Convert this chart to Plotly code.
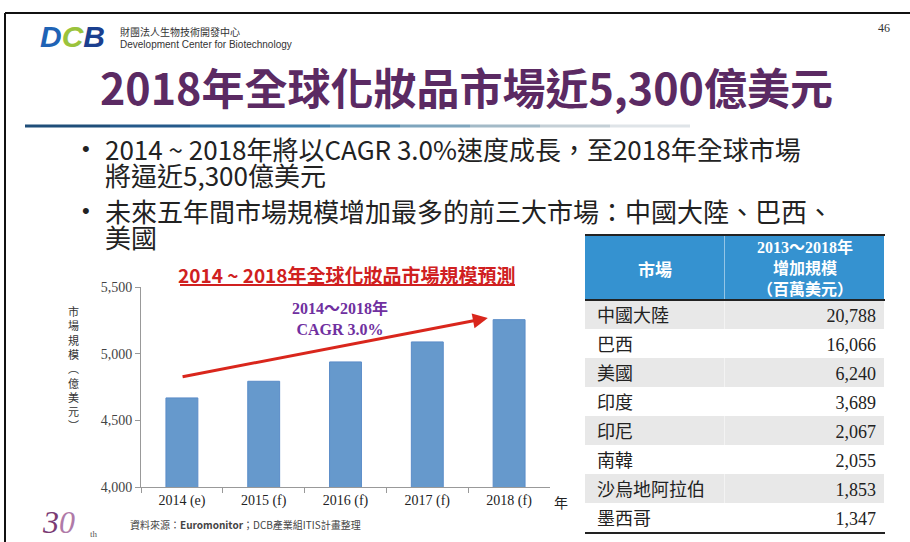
import plotly.graph_objects as go

# ---------------- data ----------------
years = ["2014 (e)", "2015 (f)", "2016 (f)", "2017 (f)", "2018 (f)"]
market_size = [4668, 4793, 4938, 5088, 5255]          # 億美元
y_ticks = [4000, 4500, 5000, 5500]

markets = ["中國大陸", "巴西", "美國", "印度", "印尼", "南韓", "沙烏地阿拉伯", "墨西哥"]
growth = [20788, 16066, 6240, 3689, 2067, 2055, 1853, 1347]   # 百萬美元
table_header = ["市場", "2013～2018年<br>增加規模<br>（百萬美元）"]

W, H = 910, 542
def px(x):
    return x / W
def py(y):
    return 1 - y / H

CJK = "Noto Sans CJK TC"
SERIF = "Liberation Serif"

fig = go.Figure()

fig.add_trace(go.Bar(
    x=years, y=market_size, width=0.39,
    marker=dict(color="#6699cc", line=dict(color="#5a8cc8", width=1)),
    hoverinfo="skip", showlegend=False,
))

row_fill = ["#e8e8e8" if i % 2 == 0 else "#ffffff" for i in range(len(markets))]
fig.add_trace(go.Table(
    domain=dict(x=[px(585), px(885)], y=[py(533), py(235)]),
    columnwidth=[140, 160],
    header=dict(
        values=["", ""],
        fill_color="#3592d0", height=65,
        line=dict(width=0, color="#3592d0"),
    ),
    cells=dict(
        values=[[" " + m for m in markets], [f"{v:,}" for v in growth]],
        fill_color=[row_fill, row_fill], align=["left", "right"], height=29,
        font=dict(color="#222222", size=[18, 18], family=[CJK, SERIF]),
        line=dict(width=0, color="white"),
    ),
))

fig.update_layout(
    width=W, height=H, margin=dict(l=0, r=0, t=0, b=0),
    paper_bgcolor="white", plot_bgcolor="rgba(0,0,0,0)",
    bargap=0.6,
    xaxis=dict(domain=[px(141), px(550)], showline=True, linecolor="#999999",
               ticks="outside", tickson="boundaries", ticklen=5, tickcolor="#999999",
               tickfont=dict(family=SERIF, size=14, color="#222222"), showgrid=False,
               automargin=False),
    yaxis=dict(domain=[py(487), py(287)], range=[4000, 5500], tickvals=y_ticks,
               tickformat=",", showline=True, linecolor="#999999", ticks="outside",
               ticklen=5, tickcolor="#999999", showgrid=False, zeroline=False,
               tickfont=dict(family=SERIF, size=14, color="#444444"), automargin=False),
)

shapes = []
# slide border
shapes.append(dict(type="line", xref="paper", yref="paper", x0=px(5), x1=px(910), y0=py(13), y1=py(13),
                   line=dict(color="#111111", width=2)))
shapes.append(dict(type="line", xref="paper", yref="paper", x0=px(5), x1=px(5), y0=py(13), y1=py(542),
                   line=dict(color="#111111", width=2)))
# gradient line under title
grad = ["#1f4e79", "#25598a", "#2e6a99", "#3d7ca8", "#5b90b3", "#7fa5bd", "#a3bac7", "#c4cfd6", "#dfe4e8"]
seg_x = [25, 110, 190, 260, 330, 400, 470, 540, 610, 690]
for i, c in enumerate(grad):
    shapes.append(dict(type="line", xref="paper", yref="paper", x0=px(seg_x[i]), x1=px(seg_x[i + 1]),
                       y0=py(126), y1=py(126), line=dict(color=c, width=3)))
# chart title underline
shapes.append(dict(type="line", xref="paper", yref="paper", x0=px(180), x1=px(515), y0=py(285), y1=py(285),
                   line=dict(color="#d02020", width=2)))
# table rules
for yy in (235, 300, 533):
    shapes.append(dict(type="line", xref="paper", yref="paper", x0=px(585), x1=px(885), y0=py(yy), y1=py(yy),
                       line=dict(color="#222222", width=2)))
fig.update_layout(shapes=shapes)

ann = []
def text(x, y, s, size, color="#222222", family=CJK, xanchor="left", yanchor="middle", align="left"):
    ann.append(dict(xref="paper", yref="paper", x=px(x), y=py(y), text=s, showarrow=False,
                    font=dict(size=size, color=color, family=family),
                    xanchor=xanchor, yanchor=yanchor, align=align))

# logo
text(38, 37, "<b><i><span style='color:#1f63b5'>D</span><span style='color:#9bc33c'>C</span>"
             "<span style='color:#1b3f8f'>B</span></i></b>", 30, family="Liberation Sans")
text(118, 31, "財團法人生物技術開發中心", 10, color="#333333")
text(118, 45, "Development Center for Biotechnology", 10, color="#333333", family="Liberation Sans")
text(892, 28, "46", 12, color="#333333", family=SERIF, xanchor="right")

# main title
text(467, 86, "<b>2018年全球化妝品市場近5,300億美元</b>", 43, color="#5b2a63", xanchor="center")

# bullets
text(80, 149, "•", 22, color="#222222", family="Liberation Sans")
text(103, 149, "2014 ~ 2018年將以CAGR 3.0%速度成長，至2018年全球市場", 26)
text(103, 174, "將逼近5,300億美元", 26)
text(80, 211, "•", 22, color="#222222", family="Liberation Sans")
text(103, 211, "未來五年間市場規模增加最多的前三大市場：中國大陸、巴西、", 26)
text(103, 236, "美國", 26)

# chart title
text(347, 274, "<b>2014 ~ 2018年全球化妝品市場規模預測</b>", 19, color="#d02020", xanchor="center")

# CAGR annotation
text(340, 318, "<b>2014～2018年<br>CAGR 3.0%</b>", 16, color="#7030a0", family=SERIF + ", " + CJK,
     xanchor="center", align="center")

# y-axis title (vertical, one character per row)
text(73, 368, "<br>".join(list("市場規模︵億美元︶")), 11, color="#333333", xanchor="center", align="center")
# x-axis unit
text(552, 502, "年", 14, color="#222222")

# table header texts
text(655, 268, "<b>" + table_header[0] + "</b>", 17, color="white", xanchor="center", align="center")
text(805, 268, "<b>" + table_header[1] + "</b>", 16, color="white", family=SERIF + ", " + CJK,
     xanchor="center", align="center")

# source
text(128, 524, "資料來源：<b>Euromonitor</b>；DCB產業組ITIS計畫整理", 10, color="#444444")
# 30th logo
text(40, 522, "<i>3<span style='color:#b07aa8'>0</span></i>", 32, color="#7a3b74", family=SERIF)
text(88, 534, "th", 9, color="#555555", family=SERIF)

# growth arrow (from first bar to last bar)
ann.append(dict(xref="x", yref="y", axref="x", ayref="y",
                x=3.74, y=market_size[-1] + 13, ax=-0.01, ay=market_size[0] + 157,
                text="", showarrow=True, arrowhead=2, arrowsize=1, arrowwidth=3,
                arrowcolor="#d9261c", standoff=0, startstandoff=0))

fig.update_layout(annotations=ann)

fig.write_html("out.html", config={"displayModeBar": False, "staticPlot": True},
               post_script="document.body.style.margin='0px';document.body.style.overflow='hidden';")
